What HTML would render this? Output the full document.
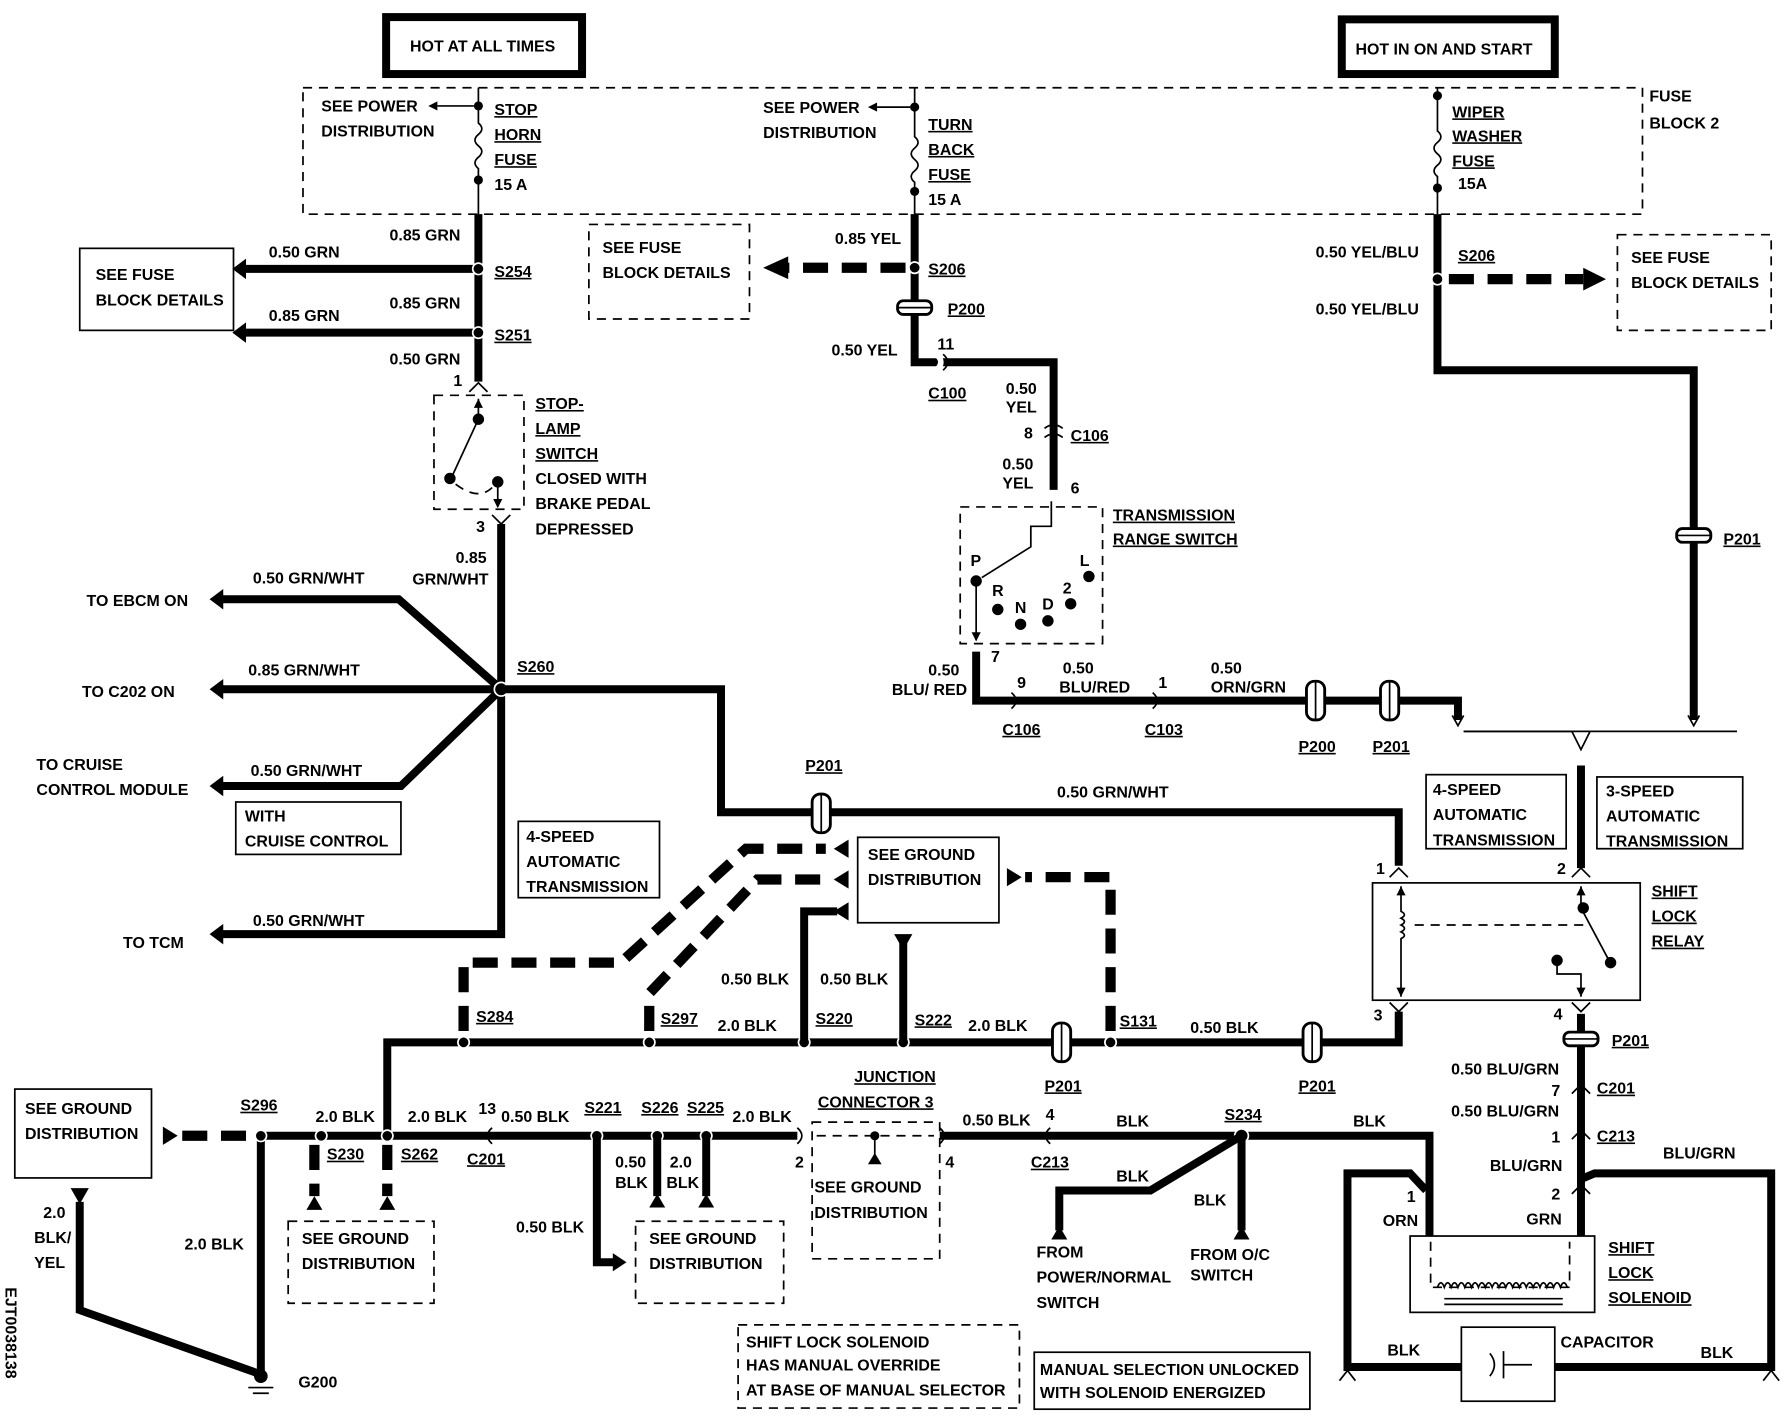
<!DOCTYPE html>
<html><head><meta charset="utf-8"><style>
html,body{margin:0;padding:0;background:#fff;}
svg{display:block;}
text{font-family:"Liberation Sans",sans-serif;font-weight:bold;font-size:14px;fill:#000;}
.u{text-decoration:underline;}
.w{stroke:#000;stroke-width:7;fill:none;stroke-linejoin:miter;}
.d{stroke:#000;stroke-width:9;fill:none;stroke-dasharray:22,12;}
.t{stroke:#000;stroke-width:1.5;fill:none;}
.td{stroke:#000;stroke-width:1.5;fill:none;stroke-dasharray:8,6;}
.dot{fill:#000;stroke:#fff;stroke-width:1.5;}
</style></head><body>
<svg width="1786" height="1424" viewBox="0 0 1568 1250" preserveAspectRatio="none" xmlns="http://www.w3.org/2000/svg">
<defs>
<marker id="ah" markerWidth="4" markerHeight="4" refX="1" refY="2" orient="auto"><path d="M3,0 L0,2 L3,4 Z" fill="#000"/></marker>
</defs>
<!-- top boxes -->
<rect x="339" y="15" width="172" height="50" fill="#fff" stroke="#000" stroke-width="7"/>
<text x="360" y="45">HOT AT ALL TIMES</text>
<rect x="1178" y="17" width="187" height="48" fill="#fff" stroke="#000" stroke-width="7"/>
<text x="1190" y="48">HOT IN ON AND START</text>
<rect x="266" y="77" width="1176" height="111" class="td"/>
<text x="1448" y="89">FUSE</text><text x="1448" y="113">BLOCK 2</text>

<!-- fuse 1 -->
<path class="t" d="M420,77 V108 q6,5 0,10 q-6,5 0,10 q6,5 0,10 q-6,5 0,10 V188" stroke-width="2.5"/>
<circle cx="420" cy="93" r="4"/><circle cx="420" cy="158" r="4"/>
<path class="t" d="M416,93 H384"/><path d="M384,89 L376,93 L384,97Z"/>
<text x="282" y="98">SEE POWER</text><text x="282" y="120">DISTRIBUTION</text>
<text x="434" y="101" class="u">STOP</text><text x="434" y="123" class="u">HORN</text><text x="434" y="145" class="u">FUSE</text><text x="434" y="167">15 A</text>
<!-- fuse 2 -->
<path class="t" d="M803,77 V120 q6,5 0,10 q-6,5 0,10 q6,5 0,10 q-6,5 0,10 V188" stroke-width="2.5"/>
<circle cx="803" cy="94" r="4"/><circle cx="803" cy="168" r="4"/>
<path class="t" d="M799,94 H770"/><path d="M770,90 L762,94 L770,98Z"/>
<text x="670" y="99">SEE POWER</text><text x="670" y="121">DISTRIBUTION</text>
<text x="815" y="114" class="u">TURN</text><text x="815" y="136" class="u">BACK</text><text x="815" y="158" class="u">FUSE</text><text x="815" y="180">15 A</text>
<!-- fuse 3 -->
<path class="t" d="M1262,77 V115 q6,5 0,10 q-6,5 0,10 q6,5 0,10 q-6,5 0,10 V188" stroke-width="2.5"/>
<circle cx="1262" cy="84" r="4"/><circle cx="1262" cy="165" r="4"/>
<text x="1275" y="103" class="u">WIPER</text><text x="1275" y="124" class="u">WASHER</text><text x="1275" y="146" class="u">FUSE</text><text x="1280" y="166">15A</text>

<!-- left stop lamp wire -->
<path class="w" d="M420,188 V335"/>
<path class="w" d="M420,236 H215"/><path d="M216,227 L204,236 L216,245Z"/>
<path class="w" d="M420,292 H215"/><path d="M216,283 L204,292 L216,301Z"/>
<circle class="dot" cx="420" cy="236" r="5"/><circle class="dot" cx="420" cy="292" r="5"/>
<text x="342" y="211">0.85 GRN</text><text x="236" y="226">0.50 GRN</text>
<text x="342" y="271">0.85 GRN</text><text x="236" y="282">0.85 GRN</text>
<text x="342" y="320">0.50 GRN</text>
<text x="434" y="243" class="u">S254</text><text x="434" y="299" class="u">S251</text>
<rect x="70" y="218" width="135" height="72" class="t"/>
<text x="84" y="246">SEE FUSE</text><text x="84" y="268">BLOCK DETAILS</text>
<text x="398" y="339">1</text>
<path class="t" d="M412,344 L420,336 L428,344" stroke-width="2.5"/>
<rect x="381" y="347" width="79" height="100" class="td"/>
<path class="t" d="M420,350 V368 L396,420" stroke-width="2"/><path d="M416,358 L420,350 L424,358Z"/>
<circle cx="420" cy="368" r="5"/><circle cx="395" cy="420" r="5"/><circle cx="437" cy="423" r="5"/>
<path class="t" d="M437,423 V445" stroke-width="2"/><path d="M433,438 L437,446 L441,438Z"/>
<path class="td" d="M400,425 Q420,440 432,428"/>
<text x="470" y="359" class="u">STOP-</text><text x="470" y="381" class="u">LAMP</text><text x="470" y="403" class="u">SWITCH</text>
<text x="470" y="425">CLOSED WITH</text><text x="470" y="447">BRAKE PEDAL</text><text x="470" y="469">DEPRESSED</text>
<text x="418" y="467">3</text>
<path class="t" d="M432,452 L440,460 L448,452" stroke-width="2.5"/>
<path class="w" d="M440,460 V820 H195"/><path d="M196,811 L184,820 L196,829Z"/>
<text x="400" y="494">0.85</text><text x="362" y="513">GRN/WHT</text>
<path class="w" d="M440,605 L350,526 H195"/><path d="M196,517 L184,526 L196,535Z"/>
<path class="w" d="M440,605 H195"/><path d="M196,596 L184,605 L196,614Z"/>
<path class="w" d="M440,605 L352,690 H195"/><path d="M196,681 L184,690 L196,699Z"/>
<circle class="dot" cx="440" cy="605" r="6"/>
<text x="222" y="512">0.50 GRN/WHT</text><text x="76" y="532">TO EBCM ON</text>
<text x="218" y="593">0.85 GRN/WHT</text><text x="72" y="612">TO C202 ON</text>
<text x="220" y="681">0.50 GRN/WHT</text><text x="32" y="676">TO CRUISE</text><text x="32" y="698">CONTROL MODULE</text>
<rect x="207" y="704" width="145" height="46" class="t"/><text x="215" y="721">WITH</text><text x="215" y="743">CRUISE CONTROL</text>
<text x="222" y="813">0.50 GRN/WHT</text><text x="108" y="832">TO TCM</text>
<text x="454" y="590" class="u">S260</text>
<path class="w" d="M440,605 H633 V713 H1228 V760"/>
<rect x="713" y="697" width="16" height="34" rx="7" fill="#fff" stroke="#000" stroke-width="2.5"/><path class="t" d="M721,697 V731"/>
<text x="707" y="677" class="u">P201</text><text x="928" y="700">0.50 GRN/WHT</text>

<!-- middle yel wire -->
<path class="w" d="M803,188 V318 H925 V430"/>
<path class="d" d="M795,235 H690"/><path d="M692,225 L670,235 L692,245Z"/>
<circle class="dot" cx="803" cy="235" r="5"/>
<rect x="517" y="197" width="141" height="83" class="td" stroke-dasharray="2,2"/>
<text x="529" y="222">SEE FUSE</text><text x="529" y="244">BLOCK DETAILS</text>
<text x="733" y="214">0.85 YEL</text><text x="815" y="241" class="u">S206</text>
<rect x="788" y="264" width="30" height="12" rx="5" fill="#fff" stroke="#000" stroke-width="2.5"/><path class="t" d="M788,270 H818"/>
<text x="832" y="276" class="u">P200</text>
<text x="730" y="312">0.50 YEL</text><text x="823" y="307">11</text>
<path d="M822,311 q8,7 0,14" stroke="#fff" stroke-width="5" fill="none"/><path d="M828,311 q8,7 0,14" class="t" stroke-width="2.5"/>
<text x="815" y="350" class="u">C100</text>
<text x="883" y="346">0.50</text><text x="883" y="362">YEL</text>
<text x="899" y="385">8</text><text x="940" y="387" class="u">C106</text>
<path d="M917,376 q8,-6 16,0 M917,384 q8,-6 16,0" class="t" stroke-width="2.5"/>
<text x="880" y="412">0.50</text><text x="880" y="429">YEL</text><text x="940" y="433">6</text>
<rect x="843" y="445" width="125" height="120" class="td"/>
<text x="977" y="457" class="u">TRANSMISSION</text><text x="977" y="478" class="u">RANGE SWITCH</text>
<path class="t" d="M923,440 V462 H905 V480 L862,507" stroke-width="2"/>
<circle cx="857" cy="510" r="5"/><circle cx="876" cy="535" r="5"/><circle cx="896" cy="548" r="5"/><circle cx="920" cy="545" r="5"/><circle cx="940" cy="530" r="5"/><circle cx="956" cy="506" r="5"/>
<text x="852" y="497">P</text><text x="871" y="523">R</text><text x="891" y="538">N</text><text x="915" y="535">D</text><text x="933" y="521">2</text><text x="948" y="497">L</text>
<path class="t" d="M857,510 V562" stroke-width="2"/><path d="M853,555 L857,563 L861,555Z"/>
<text x="870" y="581">7</text>
<path class="w" d="M857,572 V615 H1280 V632"/>
<path d="M1275,628 L1280,637 L1285,628" class="t" stroke-width="2.5"/>
<text x="815" y="593">0.50</text><text x="783" y="610">BLU/ RED</text>
<text x="893" y="604">9</text><text x="933" y="591">0.50</text><text x="930" y="608">BLU/RED</text>
<text x="1017" y="604">1</text><text x="1063" y="591">0.50</text><text x="1063" y="608">ORN/GRN</text>
<path d="M888,608 q8,7 0,14" class="t" stroke-width="2.5"/><path d="M1012,608 q8,7 0,14" class="t" stroke-width="2.5"/>
<text x="880" y="645" class="u">C106</text><text x="1005" y="645" class="u">C103</text>
<rect x="1147" y="598" width="16" height="34" rx="7" fill="#fff" stroke="#000" stroke-width="2.5"/><path class="t" d="M1155,598 V632"/>
<rect x="1212" y="598" width="16" height="34" rx="7" fill="#fff" stroke="#000" stroke-width="2.5"/><path class="t" d="M1220,598 V632"/>
<text x="1140" y="660" class="u">P200</text><text x="1205" y="660" class="u">P201</text>

<!-- right wiper wire -->
<path class="w" d="M1262,188 V325 H1487 V632"/>
<path d="M1482,628 L1487,637 L1492,628" class="t" stroke-width="2.5"/>
<circle class="dot" cx="1262" cy="245" r="5"/>
<path class="d" d="M1272,245 H1390"/><path d="M1390,235 L1410,245 L1390,255Z"/>
<text x="1280" y="229" class="u">S206</text>
<text x="1155" y="226">0.50 YEL/BLU</text><text x="1155" y="276">0.50 YEL/BLU</text>
<rect x="1420" y="206" width="135" height="84" class="td" stroke-dasharray="2,2"/>
<text x="1432" y="231">SEE FUSE</text><text x="1432" y="253">BLOCK DETAILS</text>
<rect x="1472" y="464" width="30" height="12" rx="5" fill="#fff" stroke="#000" stroke-width="2.5"/><path class="t" d="M1472,470 H1502"/>
<text x="1513" y="478" class="u">P201</text>
<path class="t" d="M1285,642 H1525 M1380,642 L1388,658 L1396,642" stroke-width="1.5"/>
<path class="t" d="M1285,642 H1380" stroke="#fff" stroke-width="0"/>
<path class="w" d="M1388,672 V762"/>
<rect x="1252" y="680" width="123" height="65" class="t"/><text x="1258" y="698">4-SPEED</text><text x="1258" y="720">AUTOMATIC</text><text x="1258" y="742">TRANSMISSION</text>
<rect x="1402" y="682" width="128" height="63" class="t"/><text x="1410" y="699">3-SPEED</text><text x="1410" y="721">AUTOMATIC</text><text x="1410" y="743">TRANSMISSION</text>
<!-- relay -->
<text x="1208" y="767">1</text><text x="1367" y="767">2</text>
<path class="t" d="M1220,770 L1228,762 L1236,770 M1380,770 L1388,762 L1396,770" stroke-width="2.5"/>
<rect x="1205" y="775" width="235" height="103" class="t" stroke-width="1"/>
<text x="1450" y="787" class="u">SHIFT</text><text x="1450" y="809" class="u">LOCK</text><text x="1450" y="831" class="u">RELAY</text>
<path class="t" d="M1230,778 V800 q6,3 0,6 q6,3 0,6 q6,3 0,6 q6,3 0,6 V875"/>
<path d="M1226,786 L1230,778 L1234,786Z"/><path d="M1226,867 L1230,875 L1234,867Z"/>
<path class="td" d="M1242,812 H1395" stroke-width="1"/>
<circle cx="1390" cy="797" r="5"/><circle cx="1414" cy="845" r="5"/><circle cx="1367" cy="843" r="5"/>
<path class="t" d="M1388,778 V797 L1412,842 M1367,843 V855 H1388 V875" stroke-width="2"/>
<path d="M1384,786 L1388,778 L1392,786Z"/><path d="M1384,867 L1388,875 L1392,867Z"/>
<text x="1206" y="896">3</text><text x="1364" y="895">4</text>
<path class="t" d="M1220,880 L1228,888 L1236,880 M1380,880 L1388,888 L1396,880" stroke-width="2.5"/>
<path class="w" d="M1228,888 V915 H340 V995"/>
<rect x="1144" y="898" width="16" height="34" rx="7" fill="#fff" stroke="#000" stroke-width="2.5"/><path class="t" d="M1152,898 V932"/>
<rect x="924" y="898" width="16" height="34" rx="7" fill="#fff" stroke="#000" stroke-width="2.5"/><path class="t" d="M932,898 V932"/>
<text x="1140" y="958" class="u">P201</text><text x="917" y="958" class="u">P201</text>
<text x="1045" y="907">0.50 BLK</text><text x="983" y="901" class="u">S131</text>
<text x="850" y="905">2.0 BLK</text><text x="803" y="900" class="u">S222</text>
<text x="716" y="899" class="u">S220</text><text x="630" y="905">2.0 BLK</text>
<text x="580" y="899" class="u">S297</text><text x="418" y="897" class="u">S284</text>
<circle class="dot" cx="975" cy="915" r="5"/><circle class="dot" cx="793" cy="915" r="5"/><circle class="dot" cx="706" cy="915" r="5"/><circle class="dot" cx="570" cy="915" r="5"/><circle class="dot" cx="407" cy="915" r="5"/>
<!-- ground distribution upper -->
<rect x="753" y="735" width="124" height="75" class="t"/><text x="762" y="755">SEE GROUND</text><text x="762" y="777">DISTRIBUTION</text>
<path class="d" d="M407,905 V845 H545 L655,745 H725"/><path d="M745,737 L732,745 L745,753Z"/>
<path class="d" d="M570,905 V872 L665,772 H725"/><path d="M745,764 L732,772 L745,780Z"/>
<path class="w" d="M706,915 V800 H735"/><path d="M745,792 L732,800 L745,808Z"/>
<path class="w" d="M793,915 V826"/><path d="M785,820 L793,834 L801,820Z"/>
<path class="d" d="M975,905 V770 H900"/><path d="M884,762 L897,770 L884,778Z"/>
<text x="633" y="864">0.50 BLK</text><text x="720" y="864">0.50 BLK</text>
<rect x="455" y="721" width="124" height="67" class="t"/><text x="462" y="739">4-SPEED</text><text x="462" y="761">AUTOMATIC</text><text x="462" y="783">TRANSMISSION</text>
<!-- right side solenoid -->
<rect x="1373" y="906" width="30" height="12" rx="5" fill="#fff" stroke="#000" stroke-width="2.5"/><path class="t" d="M1373,912 H1403"/>
<text x="1415" y="918" class="u">P201</text>
<path class="w" d="M1388,890 V906 M1388,918 V1085"/>
<text x="1274" y="943">0.50 BLU/GRN</text><text x="1274" y="980">0.50 BLU/GRN</text>
<text x="1362" y="962">7</text><text x="1402" y="960" class="u">C201</text>
<text x="1362" y="1003">1</text><text x="1402" y="1002" class="u">C213</text>
<text x="1308" y="1028">BLU/GRN</text><text x="1362" y="1053">2</text><text x="1340" y="1075">GRN</text>
<text x="1460" y="1017">BLU/GRN</text>
<path class="t" d="M1380,960 L1388,952 L1396,960 M1380,1000 L1388,992 L1396,1000 M1380,1048 L1388,1040 L1396,1048" stroke="#fff" stroke-width="3"/>
<path class="w" d="M1388,1035 L1400,1030 H1555 V1200 H1365"/>
<path class="w" d="M1283,1200 H1183 V1030 H1238 L1252,1045"/>
<rect x="1283" y="1165" width="82" height="65" class="t" fill="#fff"/>
<path class="t" d="M1308,1188 q8,10 0,20 M1320,1186 V1210 M1320,1198 H1345" stroke-width="1.5"/>
<text x="1370" y="1183">CAPACITOR</text><text x="1218" y="1190">BLK</text><text x="1493" y="1192">BLK</text>
<path class="w" d="M340,997 H700 M825,997 H1255 V1085"/>
<circle class="dot" cx="1090" cy="997" r="6"/>
<text x="1075" y="983" class="u">S234</text><text x="1188" y="989">BLK</text><text x="980" y="989">BLK</text>
<path class="w" d="M1090,997 L1010,1045 H930 V1080 M1090,997 V1080"/>
<path d="M923,1088 L930,1076 L937,1088Z"/><path d="M1083,1088 L1090,1076 L1097,1088Z"/>
<text x="980" y="1037">BLK</text><text x="1048" y="1058">BLK</text>
<text x="910" y="1104">FROM</text><text x="910" y="1126">POWER/NORMAL</text><text x="910" y="1148">SWITCH</text>
<text x="1045" y="1106">FROM O/C</text><text x="1045" y="1124">SWITCH</text>
<text x="1235" y="1055">1</text><text x="1214" y="1076">ORN</text>
<rect x="1238" y="1085" width="162" height="67" class="t" fill="#fff"/>
<path class="td" d="M1256,1090 V1130 H1378 V1090" stroke-width="1"/>
<path class="t" d="M1262,1130 q3,-8 6,0 q3,-8 6,0 q3,-8 6,0 q3,-8 6,0 q3,-8 6,0 q3,-8 6,0 q3,-8 6,0 q3,-8 6,0 q3,-8 6,0 q3,-8 6,0 q3,-8 6,0 q3,-8 6,0 q3,-8 6,0 q3,-8 6,0 q3,-8 6,0 q3,-8 6,0 q3,-8 6,0 q3,-8 6,0 q3,-8 6,0" stroke-width="1"/>
<path class="t" d="M1268,1140 H1372 M1268,1145 H1372" stroke-width="1.5"/>
<text x="1412" y="1100" class="u">SHIFT</text><text x="1412" y="1122" class="u">LOCK</text><text x="1412" y="1144" class="u">SOLENOID</text>
<path class="t" d="M1176,1212 L1183,1203 L1190,1212 M1548,1212 L1555,1203 L1562,1212" stroke-width="2"/>
<!-- bottom ground row -->
<path class="d" d="M160,997 H220"/><path d="M143,989 L156,997 L143,1005Z"/>
<path class="w" d="M229,997 H340"/>
<path class="w" d="M229,997 V1205"/>
<circle class="dot" cx="229" cy="997" r="5"/><circle class="dot" cx="282" cy="997" r="5"/><circle class="dot" cx="340" cy="997" r="5"/>
<circle class="dot" cx="524" cy="997" r="5"/><circle class="dot" cx="577" cy="997" r="5"/><circle class="dot" cx="620" cy="997" r="5"/>
<circle cx="229" cy="1208" r="6"/><path class="t" d="M218,1218 H240 M222,1223 H236" stroke-width="1"/>
<text x="262" y="1218">G200</text>
<path class="w" d="M70,1055 V1150 L225,1205"/><path d="M62,1043 L70,1057 L78,1043Z"/>
<text x="38" y="1069">2.0</text><text x="30" y="1091">BLK/</text><text x="30" y="1113">YEL</text>
<text x="162" y="1097">2.0 BLK</text>
<rect x="13" y="956" width="120" height="78" class="t"/><text x="22" y="978">SEE GROUND</text><text x="22" y="1000">DISTRIBUTION</text>
<text x="211" y="975" class="u">S296</text><text x="277" y="985">2.0 BLK</text><text x="358" y="985">2.0 BLK</text>
<text x="287" y="1018" class="u">S230</text><text x="352" y="1018" class="u">S262</text>
<path class="d" d="M276,1005 V1050"/><path class="d" d="M340,1005 V1050"/>
<path d="M269,1062 L276,1050 L283,1062Z"/><path d="M333,1062 L340,1050 L347,1062Z"/>
<rect x="253" y="1072" width="128" height="72" class="td" stroke-dasharray="2,2"/><text x="265" y="1092">SEE GROUND</text><text x="265" y="1114">DISTRIBUTION</text>
<text x="420" y="978">13</text><text x="440" y="985">0.50 BLK</text>
<path d="M432,990 q-8,7 0,14" class="t" stroke-width="2.5" stroke="#fff"/>
<text x="410" y="1022" class="u">C201</text>
<text x="513" y="977" class="u">S221</text><text x="563" y="977" class="u">S226</text><text x="603" y="977" class="u">S225</text><text x="643" y="985">2.0 BLK</text>
<path class="w" d="M524,997 V1108 H540"/><path d="M538,1100 L550,1108 L538,1116Z"/>
<path class="w" d="M577,997 V1050 M620,997 V1050"/><path d="M570,1060 L577,1048 L584,1060Z"/><path d="M613,1060 L620,1048 L627,1060Z"/>
<text x="540" y="1025">0.50</text><text x="540" y="1043">BLK</text><text x="588" y="1025">2.0</text><text x="585" y="1043">BLK</text>
<text x="453" y="1082">0.50 BLK</text>
<rect x="558" y="1072" width="130" height="72" class="td" stroke-dasharray="2,2"/><text x="570" y="1092">SEE GROUND</text><text x="570" y="1114">DISTRIBUTION</text>
<text x="750" y="950" class="u">JUNCTION</text><text x="718" y="972" class="u">CONNECTOR 3</text>
<rect x="713" y="985" width="112" height="120" class="td" stroke-dasharray="3,4"/>
<path class="t" d="M700,990 q8,7 0,14 M825,990 q8,7 0,14" stroke-width="2"/>
<path class="td" d="M717,997 H820" stroke-width="1"/><circle cx="768" cy="997" r="4"/><path class="t" d="M768,997 V1018" stroke-width="2"/><path d="M762,1022 L768,1012 L774,1022Z"/>
<text x="698" y="1025">2</text><text x="830" y="1025">4</text>
<text x="715" y="1047">SEE GROUND</text><text x="715" y="1069">DISTRIBUTION</text>
<text x="845" y="988">0.50 BLK</text><text x="918" y="983">4</text><text x="905" y="1025" class="u">C213</text>
<path d="M922,990 q-8,7 0,14" class="t" stroke-width="2.5"/>
<rect x="648" y="1163" width="247" height="73" class="td" stroke-dasharray="2,2"/>
<text x="655" y="1183">SHIFT LOCK SOLENOID</text><text x="655" y="1203">HAS MANUAL OVERRIDE</text><text x="655" y="1225">AT BASE OF MANUAL SELECTOR</text>
<rect x="908" y="1187" width="242" height="50" class="t"/>
<text x="913" y="1207">MANUAL SELECTION UNLOCKED</text><text x="913" y="1227">WITH SOLENOID  ENERGIZED</text>
<text x="0" y="0" transform="translate(5,1130) rotate(90)">EJT0038138</text>
</svg>
</body></html>
